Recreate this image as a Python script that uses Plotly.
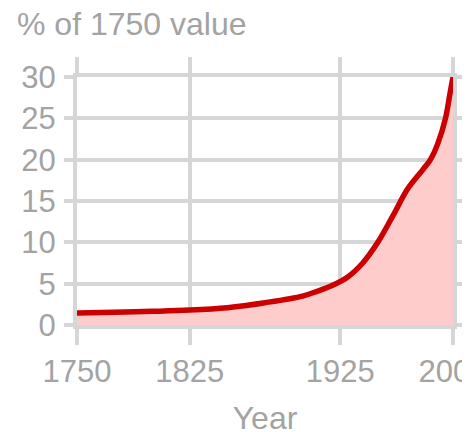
import plotly.graph_objects as go

years = [1750, 1775, 1800, 1825, 1850, 1875, 1900, 1910, 1920, 1930, 1940, 1950, 1960, 1970, 1980, 1985, 1990, 1995, 1998, 2000]
values = [1.45, 1.55, 1.65, 1.8, 2.1, 2.7, 3.5, 4.1, 4.8, 5.8, 7.5, 10.0, 13.2, 16.5, 18.8, 20.0, 22.0, 25.0, 28.0, 30.0]

x_tickvals = [1750, 1825, 1925, 2000]
y_tickvals = [0, 5, 10, 15, 20, 25, 30]

y_title = "% of 1750 value"
x_title = "Year"

grid = "#d6d6d6"
textc = "#a3a3a3"
font = "Liberation Sans, Arial, sans-serif"

L, T, PW, PH = 69, 69, 376, 248.5

fig = go.Figure()
fig.add_trace(go.Scatter(
    x=years, y=values, mode="lines",
    line=dict(color="#cc0000", width=5.5, shape="spline"),
    fill="tozeroy", fillcolor="#ffcccc",
    hoverinfo="skip", showlegend=False,
))

fig.update_layout(
    width=470, height=432,
    margin=dict(l=L, r=470 - L - PW, t=T, b=432 - T - PH),
    paper_bgcolor="white", plot_bgcolor="white",
    font=dict(family=font, size=31, color=textc),
    xaxis=dict(
        range=[1750, 2000], tickvals=x_tickvals, ticktext=[str(v) for v in x_tickvals],
        showgrid=True, gridcolor=grid, gridwidth=4,
        showline=True, linecolor=grid, linewidth=4, mirror="ticks",
        ticks="outside", ticklen=16, tickwidth=4, tickcolor=grid,
        zeroline=False, automargin=False, ticklabeloverflow="allow",
        title=dict(text=x_title, font=dict(size=32, color=textc), standoff=19),
    ),
    yaxis=dict(
        range=[0, 30], tickvals=y_tickvals,
        showgrid=True, gridcolor=grid, gridwidth=4,
        showline=True, linecolor=grid, linewidth=4, mirror="ticks",
        ticks="outside", ticklen=9, tickwidth=4, tickcolor=grid,
        zeroline=False, ticklabelstandoff=2, automargin=False,
        ticklabeloverflow="allow",
    ),
    annotations=[dict(
        text=y_title, xref="paper", yref="paper",
        x=(7 - L) / PW, y=1 + (T - 16) / PH,
        xanchor="left", yanchor="middle", showarrow=False,
        font=dict(size=32, color=textc, family=font),
    )],
)

fig.write_html("out.html")
